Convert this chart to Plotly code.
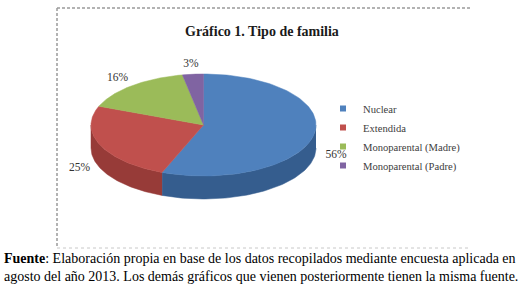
import numpy as np
import plotly.graph_objects as go

# ---- data ----
categories = ["Nuclear", "Extendida", "Monoparental (Madre)", "Monoparental (Padre)"]
values = [56, 25, 16, 3]
top_colors = ["#4F81BD", "#C0504D", "#9BBB59", "#8064A2"]
side_colors = ["#355D8E", "#973B38", "#748D42", "#5F4B7B"]
title_text = "Gráfico 1. Tipo de familia"
note_line1 = "<b>Fuente</b>: Elaboración propia en base de los datos recopilados mediante encuesta aplicada en"
note_line2 = "agosto del año 2013. Los demás gráficos que vienen posteriormente tienen la misma fuente."

SERIF = "Times New Roman, Liberation Serif, serif"
W, H = 525, 294
# pie geometry (pixel-like axis units)
cx, cy, rx, ry, depth = 203.5, 125, 112.5, 51, 23

vals = np.array(values, dtype=float)
cum = np.concatenate([[0.0], np.cumsum(vals / vals.sum())])


def ang(f):
    # start at 12 o'clock, go clockwise
    return np.pi / 2 - 2 * np.pi * f


def ell(t, dy=0.0):
    return cx + rx * np.cos(t), cy - ry * np.sin(t) + dy


fig = go.Figure()

# side walls (front half only)
for i in range(len(values)):
    t0, t1 = ang(cum[i]), ang(cum[i + 1])  # t0 > t1
    hi, lo = min(t0, 0.0), max(t1, -np.pi)
    if lo < hi:
        ts = np.linspace(hi, lo, 80)
        xt, yt = ell(ts)
        xb, yb = ell(ts[::-1], depth)
        fig.add_trace(go.Scatter(
            x=np.concatenate([xt, xb]), y=np.concatenate([yt, yb]),
            fill="toself", fillcolor=side_colors[i], mode="lines",
            line=dict(color=side_colors[i], width=0.5),
            showlegend=False, hoverinfo="skip"))

# top faces
for i in range(len(values)):
    t0, t1 = ang(cum[i]), ang(cum[i + 1])
    ts = np.linspace(t0, t1, 120)
    xa, ya = ell(ts)
    fig.add_trace(go.Scatter(
        x=np.concatenate([[cx], xa, [cx]]), y=np.concatenate([[cy], ya, [cy]]),
        fill="toself", fillcolor=top_colors[i], mode="lines",
        line=dict(color=top_colors[i], width=0.5),
        showlegend=False, hoverinfo="text", text=f"{categories[i]}: {values[i]}%"))

# percentage labels
lx, ly, lt = [], [], []
for i in range(len(values)):
    tm = ang((cum[i] + cum[i + 1]) / 2)
    s = np.sin(tm)
    lx.append(cx + 1.2 * rx * np.cos(tm))
    ly.append(cy - 1.2 * ry * s + (0.8 * depth if s < 0 else 0))
    lt.append(f"{values[i]:.0f}%")
fig.add_trace(go.Scatter(
    x=lx, y=ly, text=lt, mode="text", showlegend=False, hoverinfo="skip",
    textfont=dict(family=SERIF, size=11.5, color="#333333")))

# legend entries
for i, c in enumerate(categories):
    fig.add_trace(go.Scatter(
        x=[None], y=[None], mode="markers", name=c,
        marker=dict(symbol="square", size=6, color=top_colors[i])))

fig.update_layout(
    width=W, height=H,
    margin=dict(l=0, r=0, t=0, b=0),
    paper_bgcolor="white", plot_bgcolor="white",
    xaxis=dict(range=[0, W], visible=False, fixedrange=True),
    yaxis=dict(range=[H, 0], visible=False, fixedrange=True),
    showlegend=True,
    legend=dict(x=323 / W, y=1 - 94 / H, xanchor="left", yanchor="top",
                font=dict(family=SERIF, size=10.6, color="#404040"),
                bgcolor="rgba(0,0,0,0)", itemclick=False),
    annotations=[
        dict(x=262, y=31, xref="x", yref="y", text=f"<b>{title_text}</b>",
             showarrow=False, font=dict(family=SERIF, size=14, color="#1a1a1a")),
        dict(x=2, y=258, xref="x", yref="y", text=note_line1, xanchor="left",
             showarrow=False, font=dict(family=SERIF, size=14, color="black")),
        dict(x=2, y=276, xref="x", yref="y", text=note_line2, xanchor="left",
             showarrow=False, font=dict(family=SERIF, size=14, color="black")),
    ],
    shapes=[
        dict(type="line", xref="x", yref="y", x0=57, y0=8, x1=470, y1=8,
             line=dict(color="#9a9a9a", width=1.5, dash="3px,2px")),
        dict(type="line", xref="x", yref="y", x0=57, y0=8, x1=57, y1=248,
             line=dict(color="#9a9a9a", width=1.5, dash="3px,2px")),
        dict(type="line", xref="x", yref="y", x0=57, y0=248, x1=470, y1=248,
             line=dict(color="#c8c8c8", width=1, dash="dot")),
    ],
)

fig.write_html("out.html", config={"displayModeBar": False},
               post_script="document.body.style.margin='0';")
